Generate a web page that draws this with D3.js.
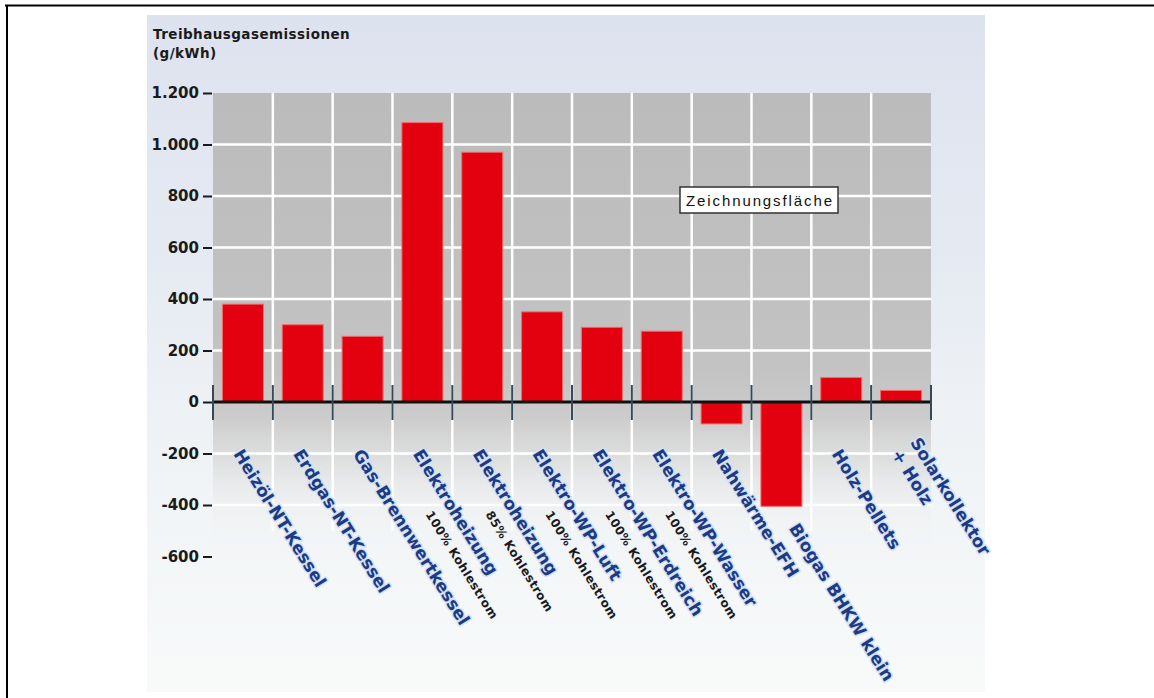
<!DOCTYPE html>
<html>
<head>
<meta charset="utf-8">
<script src="https://cdn.jsdelivr.net/npm/d3@7"></script>
<style>
  html, body { margin: 0; padding: 0; background: #ffffff; }
  svg { display: block; }
</style>
</head>
<body>
<svg id="chart" width="1154" height="698"></svg>
<script>
// ---- data ----
const categories = [
  "Heizöl-NT-Kessel",
  "Erdgas-NT-Kessel",
  "Gas-Brennwertkessel",
  "Elektroheizung",
  "Elektroheizung",
  "Elektro-WP-Luft",
  "Elektro-WP-Erdreich",
  "Elektro-WP-Wasser",
  "Nahwärme-EFH",
  "Biogas BHKW klein",
  "Holz-Pellets",
  "Solarkollektor\n+ Holz"
];
const values = [380, 300, 255, 1085, 970, 350, 290, 275, -85, -405, 95, 45];
const notes = ["", "", "", "100% Kohlestrom", "85% Kohlestrom", "100% Kohlestrom",
               "100% Kohlestrom", "100% Kohlestrom", "", "", "", ""];
const yTicks = [1200, 1000, 800, 600, 400, 200, 0, -200, -400, -600];
const titleLines = ["Treibhausgasemissionen", "(g/kWh)"];
const plotAreaLabel = "Zeichnungsfläche";

// ---- setup ----
const svg = d3.select("#chart");
const W = 1154, H = 698;
const de = d3.formatLocale({decimal: ",", thousands: ".", grouping: [3], currency: ["", " €"], minus: "-"});
const fmt = de.format(",d");

const idx = d3.range(categories.length);
const x = d3.scaleBand().domain(idx).range([213, 931]).paddingInner(0.315).paddingOuter(0.1575);
const step = x.step();
const y = d3.scaleLinear().domain([-600, 1200]).range([556.5, 93]);

const defs = svg.append("defs");
const bg = defs.append("linearGradient").attr("id", "bgGrad").attr("x1", 0).attr("y1", 0).attr("x2", 0).attr("y2", 1);
[[0, "#dde2ef"], [0.35, "#e5eaf2"], [0.62, "#eff2f5"], [1, "#f8fafa"]].forEach(s =>
  bg.append("stop").attr("offset", s[0]).attr("stop-color", s[1]));

const pg = defs.append("linearGradient").attr("id", "plotGrad")
  .attr("gradientUnits", "userSpaceOnUse").attr("x1", 0).attr("x2", 0)
  .attr("y1", y(1200)).attr("y2", y(-600));
[[0, "#bbbbbb", 1], [0.6, "#c3c3c3", 1], [0.7, "#cccccc", 1], [0.8, "#d9d9d9", 0.7],
 [0.9, "#e8e8e8", 0.25], [1, "#f0f0f0", 0]].forEach(s =>
  pg.append("stop").attr("offset", s[0]).attr("stop-color", s[1]).attr("stop-opacity", s[2]));

// page frame (top and left edges)
svg.append("line").attr("x1", 5).attr("x2", W).attr("y1", 5.5).attr("y2", 5.5)
  .attr("stroke", "#000").attr("stroke-width", 2);
svg.append("line").attr("x1", 7).attr("x2", 7).attr("y1", 5).attr("y2", H)
  .attr("stroke", "#000").attr("stroke-width", 2);

// image background
svg.append("rect").attr("x", 147).attr("y", 15).attr("width", 838).attr("height", 677)
  .attr("fill", "url(#bgGrad)");

// plot area
const x0 = x.range()[0], x1 = x.range()[1];
svg.append("rect").attr("x", x0).attr("y", y(1200)).attr("width", x1 - x0)
  .attr("height", y(-600) - y(1200)).attr("fill", "url(#plotGrad)");

// grid
const grid = svg.append("g");
grid.selectAll(".hg").data(yTicks.filter(t => t !== 0 && t !== 1200 && t !== -600)).join("line")
  .attr("x1", x0).attr("x2", x1).attr("y1", d => y(d)).attr("y2", d => y(d))
  .attr("stroke", "#ffffff").attr("stroke-width", 2.5);
grid.selectAll(".vg").data(d3.range(1, categories.length)).join("line")
  .attr("x1", d => x0 + d * step).attr("x2", d => x0 + d * step)
  .attr("y1", y(1200)).attr("y2", y(-500))
  .attr("stroke", "#ffffff").attr("stroke-width", 2.5);

// bars
svg.append("g").selectAll("rect").data(values).join("rect")
  .attr("x", (d, i) => x(i)).attr("width", x.bandwidth())
  .attr("y", d => y(Math.max(0, d))).attr("height", d => Math.abs(y(d) - y(0)))
  .attr("fill", "#e3000f").attr("stroke", "#f26a6a").attr("stroke-width", 1);

// zero axis
svg.append("line").attr("x1", x0).attr("x2", x1).attr("y1", y(0)).attr("y2", y(0))
  .attr("stroke", "#111").attr("stroke-width", 3);
svg.append("g").selectAll("line").data(d3.range(0, categories.length + 1)).join("line")
  .attr("x1", d => x0 + d * step).attr("x2", d => x0 + d * step)
  .attr("y1", y(0) - 17).attr("y2", y(0) + 18)
  .attr("stroke", "#34495c").attr("stroke-width", 2);

// y axis
const yAxis = svg.append("g").attr("transform", "translate(212,0)")
  .call(d3.axisLeft(y).tickValues(yTicks).tickFormat(fmt).tickSize(9).tickPadding(4));
yAxis.select(".domain").remove();
yAxis.selectAll(".tick line").attr("stroke", "#1a1a1a").attr("stroke-width", 2);
yAxis.selectAll(".tick text").attr("fill", "#1a1a1a")
  .attr("font-family", "DejaVu Sans").attr("font-weight", "bold").attr("font-size", 15);

// title
svg.append("g").selectAll("text").data(titleLines).join("text")
  .attr("x", 153).attr("y", (d, i) => 39 + i * 19)
  .attr("font-family", "DejaVu Sans").attr("font-weight", "bold").attr("font-size", 13.5)
  .attr("letter-spacing", 0.45).attr("fill", "#1a1a1a").text(d => d);

// plot area label
const zb = svg.append("g").attr("transform", "translate(759,200)");
zb.append("rect").attr("x", -79).attr("y", -13).attr("width", 158).attr("height", 26)
  .attr("fill", "#ffffff").attr("stroke", "#333").attr("stroke-width", 1.5);
zb.append("text").attr("text-anchor", "middle").attr("y", 5.5)
  .attr("font-family", "Liberation Sans").attr("font-size", 15)
  .attr("textLength", 146).attr("fill", "#111").text(plotAreaLabel);

// category labels
const angle = 58;
const labels = svg.append("g").selectAll("g").data(idx).join("g")
  .attr("transform", i => {
    const v = values[i];
    const ly = Math.max(454, v < 0 ? y(v) + 22 : 0);
    const lx = x(i) + x.bandwidth() / 2 - 10 + (ly - 454) * 0.23;
    return `translate(${lx},${ly}) rotate(${angle})`;
  });
labels.each(function (i) {
  const g = d3.select(this);
  const lines = categories[i].split("\n");
  lines.forEach((ln, k) => {
    g.append("text")
      .attr("x", 0).attr("y", (k - (lines.length - 1)) * 22)
      .attr("font-family", "DejaVu Sans").attr("font-weight", "bold").attr("font-size", 17)
      .attr("fill", "#1d3a85").attr("stroke", "#d2e2f3").attr("stroke-width", 3)
      .attr("stroke-linejoin", "round").attr("paint-order", "stroke")
      .text(ln);
  });
  if (notes[i]) {
    g.append("text").attr("x", 58).attr("y", 21)
      .attr("font-family", "DejaVu Sans").attr("font-weight", "bold").attr("font-size", 12)
      .attr("letter-spacing", 0.4).attr("fill", "#1a1a1a")
      .attr("stroke", "#eef2f6").attr("stroke-width", 2).attr("paint-order", "stroke")
      .text(notes[i]);
  }
});
</script>
</body>
</html>
